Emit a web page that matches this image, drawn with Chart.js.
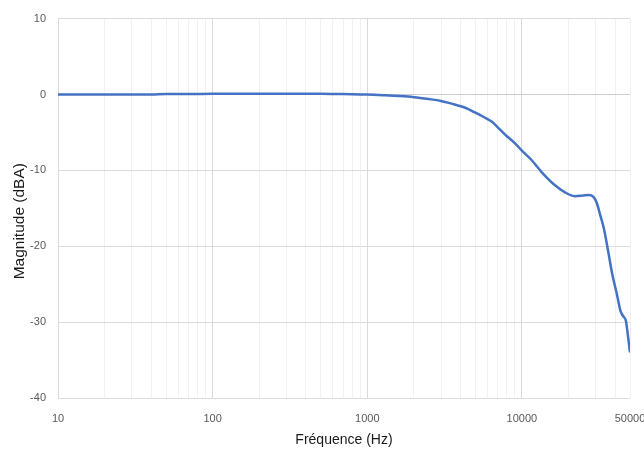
<!DOCTYPE html>
<html>
<head>
<meta charset="utf-8">
<script src="https://cdn.jsdelivr.net/npm/chart.js@4/dist/chart.umd.min.js"></script>
<style>
  html, body { margin: 0; padding: 0; background: #fff; }
  #wrap { width: 644px; height: 449px; }
</style>
</head>
<body>
<div id="wrap"><canvas id="c" width="644" height="449"></canvas></div>
<script>
// frequency (Hz) and magnitude (dBA)
const freqs = [10, 20, 30, 40, 50, 70, 100, 150, 200, 300, 400, 500, 700, 1000,
  1300, 1600, 2000, 2500, 3000, 3500, 4300, 5000, 5700, 6400, 7200, 8000, 9000,
  10000, 11500, 13500, 16000, 19000, 22000, 25000, 27000, 29000, 30500, 32000,
  34000, 36000, 38500, 41000, 43500, 45500, 47000, 48500, 50000];
const magnitude = [0, 0, 0, 0, 0.05, 0.05, 0.1, 0.1, 0.1, 0.1, 0.1, 0.1, 0.05, 0,
  -0.1, -0.2, -0.35, -0.6, -0.85, -1.2, -1.75, -2.4, -3.0, -3.6, -4.6, -5.5, -6.4,
  -7.4, -8.6, -10.3, -11.8, -12.9, -13.4, -13.3, -13.25, -13.5, -14.3, -15.8,
  -17.8, -20.5, -23.8, -26.2, -28.6, -29.3, -29.8, -31.8, -34];
const xLabels = [10, 100, 1000, 10000, 50000];
const yTicks = [10, 0, -10, -20, -30, -40];

const points = freqs.map((f, i) => ({ x: f, y: magnitude[i] }));

// grid at 1..9 x every decade, up to 50000
const gridTicks = [];
for (let d = 10; d <= 10000; d *= 10) {
  for (let m = 1; m <= 9; m++) {
    if (d * m <= 50000) gridTicks.push(d * m);
  }
}
const decades = [10, 100, 1000, 10000];

Chart.defaults.font.family = "'Liberation Sans', Arial, sans-serif";
Chart.defaults.color = '#595959';

new Chart(document.getElementById('c'), {
  type: 'scatter',
  data: {
    datasets: [{
      data: points,
      showLine: true,
      borderColor: '#4472c4',
      borderWidth: 2.5,
      pointRadius: 0,
      cubicInterpolationMode: 'monotone',
      fill: false
    }]
  },
  options: {
    responsive: false,
    animation: false,
    layout: { padding: { left: 0, right: 14, top: 12, bottom: 0 } },
    plugins: { legend: { display: false }, tooltip: { enabled: false } },
    scales: {
      x: {
        type: 'logarithmic',
        min: 10,
        max: 50000,
        afterBuildTicks: s => { s.ticks = gridTicks.map(v => ({ value: v })); },
        afterFit: s => { s.paddingRight = 0; s.paddingLeft = 0; s.height -= 7; },
        ticks: {
          autoSkip: false,
          maxRotation: 0,
          padding: 14,
          font: { size: 11 },
          callback: v => xLabels.includes(v) ? String(v) : ''
        },
        grid: {
          color: ctx => decades.includes(ctx.tick && ctx.tick.value) ? '#d9d9d9' : '#f0f0f0',
          lineWidth: 1,
          drawTicks: false
        },
        border: { display: false },
        title: {
          display: true,
          text: 'Fréquence (Hz)',
          color: '#1a1a1a',
          font: { size: 14 },
          padding: { top: 0, bottom: 0 }
        }
      },
      y: {
        min: -40,
        max: 10,
        afterBuildTicks: s => { s.ticks = yTicks.map(v => ({ value: v })); },
        afterFit: s => { s.width = 58; },
        ticks: { padding: 12, font: { size: 11 } },
        grid: {
          color: ctx => (ctx.tick && ctx.tick.value === 0) ? '#cccccc' : '#dcdcdc',
          lineWidth: 1,
          drawTicks: false
        },
        border: { display: true, color: '#d9d9d9' },
        title: {
          display: true,
          text: 'Magnitude (dBA)\u00a0\u00a0\u00a0\u00a0\u00a0\u00a0',
          color: '#1a1a1a',
          font: { size: 15.5 },
          padding: { top: 10, bottom: 0 }
        }
      }
    }
  }
});
</script>
</body>
</html>
